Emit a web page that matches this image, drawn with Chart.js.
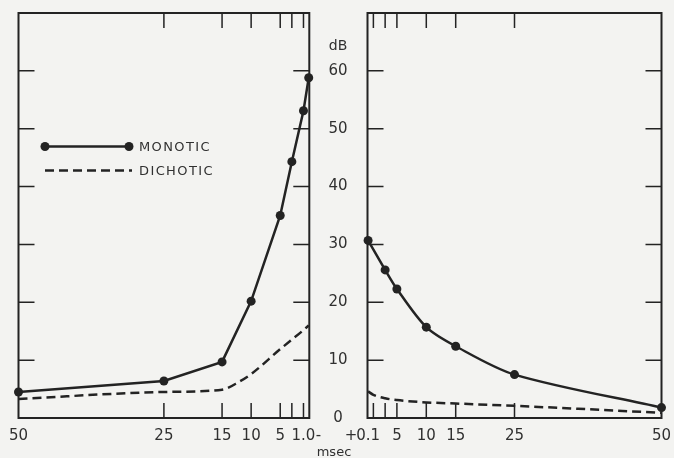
<!DOCTYPE html>
<html>
<head>
<meta charset="utf-8">
<script src="https://cdn.jsdelivr.net/npm/chart.js@4/dist/chart.umd.min.js"></script>
<style>
  body { margin: 0; background: #f3f3f1; }
  #wrap { position: relative; width: 674px; height: 458px; overflow: hidden; }
  canvas { position: absolute; top: 0; }
  #leftChart { left: 0; }
  #rightChart { left: 300px; }
</style>
</head>
<body>
<div id="wrap">
  <canvas id="leftChart" width="330" height="458"></canvas>
  <canvas id="rightChart" width="374" height="458"></canvas>
</div>
<script>
// left panel (delays read right to left)
var leftDelay = [50, 25, 15, 10, 5, 3, 1, 0.1];
var leftMonotic = [4.5, 6.4, 9.7, 20.2, 35.0, 44.3, 53.1, 58.8];
var leftDichoticDelay = [50, 25, 15, 12, 10, 5, 1, 0.1];
var leftDichotic = [3.3, 4.5, 4.9, 6.3, 7.6, 11.9, 15.2, 16.0];

// right panel
var rightDelay = [0.1, 3, 5, 10, 15, 25, 50];
var rightMonotic = [30.7, 25.6, 22.3, 15.7, 12.4, 7.5, 1.8];
var rightDichoticDelay = [0.1, 1, 3, 5, 10, 15, 25, 50];
var rightDichotic = [4.6, 4.0, 3.4, 3.1, 2.7, 2.5, 2.1, 0.9];

// axes
var dbTicks = [0, 10, 20, 30, 40, 50, 60];
var markTicks = [1, 3, 5, 10, 15, 25];
var leftTickValues = [50, 25, 15, 10, 5, 3, 1];
var leftTickLabels = { 50: '50', 25: '25', 15: '15', 10: '10', 5: '5', 1: '1.0' };
var rightTickValues = [0.1, 1, 3, 5, 10, 15, 25, 50];
var rightTickLabels = { 0.1: '0.1', 5: '5', 10: '10', 15: '15', 25: '25', 50: '50' };

var INK = '#232323';
var TEXT = '#303030';
var labelFont = { family: 'DejaVu Sans', size: 15 };

function toPoints(xs, ys) {
    return xs.map(function(x, i) { return { x: x, y: ys[i] }; });
}

function monoticSet(data, tension) {
    return {
        label: 'MONOTIC',
        data: data,
        borderColor: INK,
        backgroundColor: INK,
        borderWidth: 2.5,
        pointRadius: 4.5,
        pointBorderWidth: 0,
        tension: tension,
        clip: false
    };
}

function dichoticSet(data, tension) {
    return {
        label: 'DICHOTIC',
        data: data,
        borderColor: INK,
        borderWidth: 2.5,
        borderDash: [9, 5],
        pointRadius: 0,
        tension: tension,
        cubicInterpolationMode: 'monotone',
        clip: false
    };
}

// frame + inward tick marks, like the original drawing
var framePlugin = {
    id: 'frame',
    afterDraw: function(chart) {
        var ctx = chart.ctx;
        var a = chart.chartArea;
        var xs = chart.scales.x;
        var ys = chart.scales.y;
        ctx.save();
        ctx.strokeStyle = INK;
        ctx.lineWidth = 2;
        ctx.strokeRect(a.left, a.top, a.right - a.left, a.bottom - a.top);
        ctx.lineWidth = 1.5;
        ctx.beginPath();
        markTicks.forEach(function(v) {
            var x = xs.getPixelForValue(v);
            ctx.moveTo(x, a.bottom);
            ctx.lineTo(x, a.bottom - 15);
            ctx.moveTo(x, a.top);
            ctx.lineTo(x, a.top + 15);
        });
        dbTicks.forEach(function(v) {
            if (v === 0) return;
            var y = ys.getPixelForValue(v);
            ctx.moveTo(a.left, y);
            ctx.lineTo(a.left + 16, y);
            ctx.moveTo(a.right, y);
            ctx.lineTo(a.right - 16, y);
        });
        ctx.stroke();
        ctx.restore();
    }
};

// legend drawn inside the left panel
var legendPlugin = {
    id: 'innerLegend',
    afterDraw: function(chart) {
        var ctx = chart.ctx;
        var sets = chart.data.datasets;
        var x0 = 45, x1 = 129, textX = 139;
        var rows = [146.5, 170.5];
        ctx.save();
        ctx.fillStyle = TEXT;
        ctx.font = '13px "DejaVu Sans"';
        ctx.letterSpacing = '1.4px';
        ctx.textBaseline = 'middle';
        sets.forEach(function(ds, i) {
            var y = rows[i];
            ctx.strokeStyle = ds.borderColor;
            ctx.lineWidth = 2.5;
            ctx.setLineDash(ds.borderDash || []);
            ctx.beginPath();
            ctx.moveTo(x0, y);
            ctx.lineTo(ds.borderDash ? x1 + 3 : x1, y);
            ctx.stroke();
            ctx.setLineDash([]);
            if (ds.pointRadius > 0) {
                ctx.fillStyle = ds.backgroundColor;
                [x0, x1].forEach(function(px) {
                    ctx.beginPath();
                    ctx.arc(px, y, ds.pointRadius, 0, Math.PI * 2);
                    ctx.fill();
                });
            }
            ctx.fillStyle = TEXT;
            ctx.fillText(ds.label, textX, y + 1);
        });
        ctx.restore();
    }
};

var signPlugin = {
    id: 'signs',
    afterDraw: function(chart) {
        var ctx = chart.ctx;
        var xs = chart.scales.x;
        ctx.save();
        ctx.fillStyle = TEXT;
        ctx.font = '15px "DejaVu Sans"';
        ctx.textAlign = 'center';
        ctx.textBaseline = 'middle';
        if (chart.canvas.id === 'leftChart') {
            ctx.fillText('-', xs.getPixelForValue(1) + 15, 436);
        } else {
            ctx.fillText('+', xs.getPixelForValue(0.1) - 17, 436);
            ctx.font = '14px "DejaVu Sans"';
            ctx.fillText('dB', 38, 46);
            ctx.font = '13px "DejaVu Sans"';
            ctx.fillText('msec', 34, 453);
        }
        ctx.restore();
    }
};

function xScale(values, labels, reverse) {
    return {
        type: 'linear',
        min: 0,
        max: 50,
        reverse: reverse,
        grid: { display: false, drawTicks: false },
        border: { display: false },
        afterBuildTicks: function(scale) {
            scale.ticks = values.map(function(v) { return { value: v }; });
        },
        afterFit: function(scale) {
            scale.height = 40;
            scale.paddingLeft = 0;
            scale.paddingRight = 0;
        },
        ticks: {
            autoSkip: false,
            maxRotation: 0,
            padding: 9,
            color: TEXT,
            font: labelFont,
            callback: function(value) { return labels[value] || ''; }
        }
    };
}

Chart.defaults.animation = false;

new Chart(document.getElementById('leftChart'), {
    type: 'line',
    data: {
        datasets: [
            monoticSet(toPoints(leftDelay, leftMonotic), 0),
            dichoticSet(toPoints(leftDichoticDelay, leftDichotic), 0.3)
        ]
    },
    options: {
        responsive: false,
        layout: { padding: { left: 18.5, right: 20.7, top: 13, bottom: 0 } },
        plugins: { legend: { display: false }, tooltip: { enabled: false } },
        scales: {
            x: xScale(leftTickValues, leftTickLabels, true),
            y: { type: 'linear', min: 0, max: 70, display: false }
        }
    },
    plugins: [framePlugin, legendPlugin, signPlugin]
});

new Chart(document.getElementById('rightChart'), {
    type: 'line',
    data: {
        datasets: [
            monoticSet(toPoints(rightDelay, rightMonotic), 0.3),
            dichoticSet(toPoints(rightDichoticDelay, rightDichotic), 0.3)
        ]
    },
    options: {
        responsive: false,
        layout: { padding: { left: 0, right: 12.5, top: 13, bottom: 0 } },
        plugins: { legend: { display: false }, tooltip: { enabled: false } },
        scales: {
            x: xScale(rightTickValues, rightTickLabels, false),
            y: {
                type: 'linear',
                min: 0,
                max: 70,
                grid: { display: false, drawTicks: false },
                border: { display: false },
                afterBuildTicks: function(scale) {
                    scale.ticks = dbTicks.map(function(v) { return { value: v }; });
                },
                afterFit: function(scale) {
                    scale.width = 67.5;
                    scale.paddingTop = 0;
                    scale.paddingBottom = 0;
                },
                ticks: {
                    crossAlign: 'center',
                    padding: 20,
                    color: TEXT,
                    font: labelFont
                }
            }
        }
    },
    plugins: [framePlugin, signPlugin]
});
</script>
</body>
</html>
